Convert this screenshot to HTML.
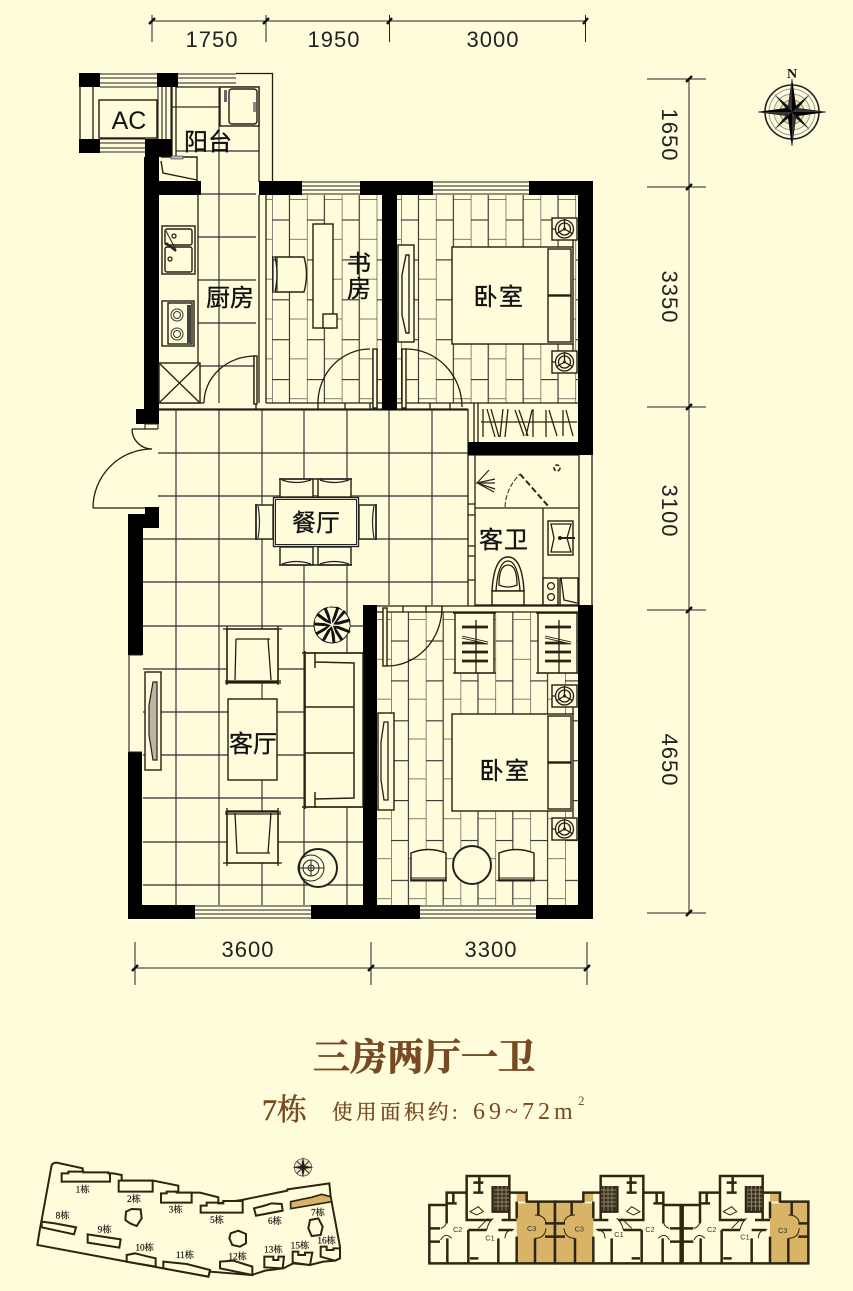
<!DOCTYPE html>
<html><head><meta charset="utf-8"><style>
html,body{margin:0;padding:0;background:#fffcdb}
svg{display:block}
.r{font-family:"Liberation Sans","Noto Sans CJK SC",sans-serif;font-size:24px;fill:#111;text-anchor:middle;stroke:#111;stroke-width:.35}
.d{font-family:"Liberation Sans",sans-serif;font-size:22px;fill:#222;text-anchor:middle;letter-spacing:1px}
.s{font-family:"Liberation Serif","Noto Serif CJK SC",serif;font-size:28px;fill:#111;text-anchor:middle;stroke:#111;stroke-width:.5}
.k{font-family:"Liberation Sans",sans-serif;font-size:22px;fill:#333;text-anchor:middle}
.t{font-family:"Liberation Serif","Noto Serif CJK SC",serif;fill:#774a22}
.f{fill:#fffcdb;stroke:#231d10;stroke-width:1.4}
.l{fill:none;stroke:#231d10;stroke-width:1.3}
.g{fill:none;stroke:#2c2c2c;stroke-width:1.15}
</style></head><body>
<svg xmlns="http://www.w3.org/2000/svg" width="853" height="1291" viewBox="0 0 853 1291">
<defs>
<pattern id="pa" patternUnits="userSpaceOnUse" x="272" y="199" width="34.9" height="39.9"><path d="M0,0V40M17.45,0V40M0,21H17.45M17.45,0H34.9" fill="none" stroke="#333" stroke-width="1.15"/></pattern>
<pattern id="pb" patternUnits="userSpaceOnUse" x="401" y="199" width="34.9" height="39.9"><path d="M0,0V40M17.45,0V40M0,21H17.45M17.45,0H34.9" fill="none" stroke="#333" stroke-width="1.15"/></pattern>
<pattern id="pc" patternUnits="userSpaceOnUse" x="391" y="619" width="34.8" height="39.9"><path d="M0,0V40M17.4,0V40M0,22H17.4M17.4,0H34.8" fill="none" stroke="#333" stroke-width="1.15"/></pattern>
<g id="ns"><rect x="0" y="0" width="25" height="22" class="f"/><circle cx="12.5" cy="11" r="9" class="l"/><circle cx="12.5" cy="11" r="6" class="l"/><circle cx="12.5" cy="11" r="1.5" fill="#222"/><path d="M12.5,11V1M12.5,11L21,16M12.5,11L4,16M0,11H4" class="l"/></g>
<g id="ward"><rect x="0" y="0" width="39" height="60" class="f" stroke-width="1.5"/><path d="M-2,0H41M-2,60H41" class="l"/><path d="M7,14h26M7,24l26,6M7,30h26M7,39h26M7,48h26" fill="none" stroke="#2b2416" stroke-width="2.8"/><path d="M7,24l26,6" fill="none" stroke="#fffcdb" stroke-width=".9"/><path d="M21,7V60" class="l"/></g>
<g id="bed"><rect x="0" y="0" width="121" height="97" class="f" stroke-width="1.6"/><rect x="96" y="2" width="23" height="46" class="f"/><rect x="96" y="49" width="23" height="46" class="f"/></g>
<g id="unit">
<path d="M290,130H320V95H290ZM290,125H405V310H290Z" fill="#d9b467"/>
<path d="M28,135H80V98H140V48H268V98H320V125H405V310H28Z M80,135V190 M82,235V310 M30,205H60 M30,245H60 M145,210V310 M145,210H200 M235,235V310 M235,210H278 M290,125V175 M290,230V310 M345,235V310 M355,125V165 M375,190H405 M375,230H405 M140,98V180H215 M160,68H190M160,98H190 M178,50V98 M218,78V155H268 M268,98V180H290 M245,180H290 M150,295H175 M80,130H110 M100,98V128" fill="none" stroke="#2e2612" stroke-width="7.5"/>
<rect x="222" y="78" width="45" height="75" fill="#3a3020"/>
<path d="M222,90H267M222,102H267M222,114H267M222,126H267M222,138H267M234,78V153M246,78V153M258,78V153" stroke="#a89a78" stroke-width="2"/>
<g fill="none" stroke="#2e2612" stroke-width="3">
<path d="M62,205Q82,200 82,170M62,240Q75,215 95,235M345,165Q375,165 378,190M345,235Q375,235 378,205M200,210Q205,185 220,175M255,235Q255,210 282,208M175,205Q190,190 205,175M150,155L175,140L190,155L170,165Z"/>
</g>
</g>
</defs>
<rect width="853" height="1291" fill="#fffcdb"/>

<!-- floor tiles -->
<path class="g" d="M158,410H468M158,453H468M158,496H468M143,539H468M143,582H468M143,626H363M143,669H363M143,712H363M143,755H363M143,798H363M143,842H363M143,885H363M176,410V905M219,410V905M262,410V905M304,410V905M347,410V905M389,410V605M432,410V605"/>
<path class="g" d="M219,88V403M172,107H220M176,151H259M198,194H256M198,237H256M198,280H256M198,323H256M198,366H256"/>
<rect x="266" y="195" width="116" height="208" fill="url(#pa)"/>
<rect x="397" y="195" width="181" height="208" fill="url(#pb)"/>
<rect x="377" y="612" width="201" height="293" fill="url(#pc)"/>

<!-- thin structure lines -->
<path class="l" d="M236,73.5H272.5V182M259,87V182M176,87H259M172,87V157M176,87V157M259,195V403M266,195V403M266,403H382M204,409H256M256,409H382M159,403H204M159,409H204M256,356V409M254,356V404M373,349V408M377,349V408M397,403H578M397,409H468M468,409V606M474,403V442M478,403V442M468,455H579M475,455V606M475,508H579M543,508V605M475,605H579M579,455V605M592,455V605M377,606H578M377,612H578M403,606V612M426,606V612M442,606V612M318,403V409M345,403V409M370,403V409M430,403V409M450,403V409M468,504H475M468,515H475M468,546H475M468,556H475M468,580H475M468,606H475"/>

<!-- door arcs -->
<path class="l" d="M255,356A51,47 0 0 0 204,403M370,349A52,54 0 0 0 318,403M406,349A56,58 0 0 1 462,407M387,666A55,59 0 0 0 442,607M132,429H158M132,429A20,20 0 0 0 152,449M152,449A59,59 0 0 0 93,508M93,508H145"/>
<rect x="402" y="349" width="4" height="59" class="f"/>
<rect x="383" y="608" width="4" height="58" class="f"/>
<rect x="373" y="349" width="4" height="59" class="f"/>
<rect x="254" y="356" width="3" height="48" class="f"/>

<!-- walls -->
<g fill="#000">
<rect x="79" y="73" width="21" height="14"/><rect x="157" y="73" width="21" height="14"/><rect x="79" y="139" width="21" height="14"/>
<rect x="145" y="139" width="27" height="18"/><rect x="144" y="157" width="15" height="253"/><rect x="159" y="181" width="42" height="14"/>
<rect x="136" y="409" width="23" height="15"/>
<rect x="145" y="507" width="14" height="21"/><rect x="128" y="514" width="31" height="14"/><rect x="128" y="514" width="15" height="141"/><rect x="128" y="752" width="14" height="167"/>
<rect x="128" y="905" width="67" height="14"/><rect x="311" y="905" width="109" height="14"/><rect x="536" y="905" width="57" height="14"/>
<rect x="363" y="605" width="14" height="300"/><rect x="578" y="605" width="15" height="314"/>
<rect x="259" y="181" width="43" height="14"/><rect x="360" y="181" width="73" height="14"/><rect x="529" y="181" width="64" height="14"/>
<rect x="382" y="181" width="15" height="229"/><rect x="578" y="181" width="15" height="274"/><rect x="468" y="442" width="125" height="13"/>
</g>
<!-- windows -->
<path fill="none" stroke="#222" stroke-width="1.1" d="M302,182H360M302,186H360M302,190H360M302,194H360M433,182H529M433,186H529M433,190H529M433,194H529M195,906H311M195,910H311M195,914H311M195,918H311M420,906H536M420,910H536M420,914H536M420,918H536M100,74H157M100,78H157M100,83H157M100,87H157M178,74H236M178,78H236M178,83H236M178,87H220M100,139H145M100,143H145M100,148H145M100,152H145M158,87V139M162,87V139M166,87V139M171,87V139M129,655H142M129,752H142M129,655V752M145,424V429M158,424V429M145,424H158"/>
<path class="l" d="M80,87V139M93,87V139"/>
<rect x="99" y="100" width="58" height="38" class="f"/>
<text x="129" y="129" font-family="'Liberation Sans',sans-serif" font-size="25" text-anchor="middle" fill="#111">AC</text>

<!-- balcony items -->
<rect x="220" y="87" width="39" height="39" class="f" stroke-width="1.6"/>
<rect x="229" y="89" width="28" height="35" rx="3" class="f"/>
<rect x="224" y="90" width="3" height="12" fill="#666"/><rect x="253" y="102" width="3" height="10" fill="#888"/>
<path d="M161,157H197V181M161,161L163,173L197,180" class="f" style="fill:none"/>
<rect x="171" y="156" width="12" height="3" fill="#bbb" stroke="#333" stroke-width=".6"/>

<!-- kitchen items -->
<path class="l" d="M198,195V363"/>
<rect x="162" y="226" width="33" height="48" class="f" stroke-width="2"/>
<rect x="165" y="229" width="27" height="16" rx="2" class="f"/><rect x="165" y="247" width="27" height="25" rx="2" class="f"/>
<circle cx="174" cy="236" r="2" class="l"/><circle cx="170" cy="259" r="2" class="l"/>
<path d="M166,231L176,250" stroke="#222" stroke-width="1" fill="none"/><path d="M166,243L176,251" stroke="#222" stroke-width="2.4"/>
<rect x="162" y="301" width="32" height="45" class="f"/><rect x="168" y="303" width="24" height="41" class="f"/>
<g fill="none" stroke="#333"><circle cx="177" cy="315" r="6"/><circle cx="177" cy="315" r="3.5"/><circle cx="177" cy="334" r="6"/><circle cx="177" cy="334" r="3.5"/></g>
<rect x="187" y="305" width="4" height="38" fill="#444"/>
<rect x="159" y="363" width="41" height="40" class="f" stroke-width="2"/><path class="l" d="M160,364L199,402M199,364L160,402"/>

<!-- study -->
<rect x="313" y="224" width="20" height="104" class="f"/><rect x="323" y="314" width="14" height="14" class="f"/>
<path class="f" d="M275,257H304Q309,274 304,292H275Q279,274 275,257Z"/><path d="M273,256V293M277,257V292" stroke="#222" stroke-width="1.2" fill="none"/>

<!-- bedroom 1 -->
<rect x="398" y="245" width="16" height="97" class="f"/>
<path d="M406,255H409V333H406L402,315V275Z" fill="#fffcdb" stroke="#222" stroke-width="1.4"/>
<use href="#bed" x="452" y="247"/>
<use href="#ns" x="552" y="218"/><use href="#ns" x="552" y="351"/>
<path class="l" d="M573,240V247M573,344V351"/>
<g fill="none" stroke="#2b2416" stroke-width="1.3">
<path d="M481,422H577"/>
<path d="M483,409V437M487,409L495,437M491,409L499,437M503,409L500,437M508,409L505,437M515,410L524,436M519,410L528,436M532,410L526,436M533,409V437M546,410V437M549,410L557,436M566,410L573,436M563,410V436"/>
</g>

<!-- bathroom -->
<g fill="none" stroke="#2b2416">
<path d="M495,479L477,483L495,489M477,483L489,470M477,483H495M479,484L494,492" stroke-width="1.2"/>
<path d="M520,474L549,507" stroke-width="2" stroke-dasharray="6 3"/>
<path d="M505,507Q506,488 520,474" stroke-width="1" stroke-dasharray="5 2"/>
<circle cx="557" cy="468" r="3" stroke-width="1.6" stroke-dasharray="4 2"/>
</g>
<rect x="548" y="521" width="25" height="34" class="f" stroke-width="1.6"/>
<path class="l" d="M551,524H571L567,538L571,552H551L554,538Z"/>
<path d="M558,538H575" stroke="#222" stroke-width="2"/><circle cx="560" cy="538" r="2" fill="#222"/>
<rect x="543" y="578" width="15" height="27" class="f" stroke-width="1.5"/><circle cx="551" cy="586" r="3.4" class="l"/><circle cx="551" cy="597" r="3.4" class="l"/>
<rect x="560" y="578" width="18" height="27" class="f" stroke-width="1.5"/><path class="l" d="M561,578L564,600L577,603"/>
<path class="f" d="M492,591Q494,557 508,557Q522,557 524,591Z"/>
<path class="l" d="M496,591Q498,561 508,561Q518,561 520,591M499,585Q499,565 508,565Q517,565 517,585Q508,589 499,585Z"/>
<rect x="492" y="591" width="32" height="14" class="f" stroke-width="1.6"/>

<!-- dining -->
<g>
<rect x="280" y="479" width="33" height="18" class="f"/><rect x="318" y="479" width="33" height="18" class="f"/>
<rect x="280" y="547" width="33" height="18" class="f"/><rect x="318" y="547" width="33" height="18" class="f"/>
<rect x="256" y="505" width="17" height="34" class="f"/><rect x="359" y="505" width="17" height="34" class="f"/>
<path d="M279,479H352M279,565H352M256,504V540M376,504V540" stroke="#222" stroke-width="1.6" fill="none"/>
<path d="M258,506Q261,522 258,538M374,506Q371,522 374,538M282,480Q296,485 311,480M320,480Q334,485 349,480M282,564Q296,559 311,564M320,564Q334,559 349,564" fill="none" stroke="#222" stroke-width="1.2"/>
<rect x="273.5" y="497.5" width="85" height="49" fill="#fffcdb" stroke="#222" stroke-width="1.4"/>
<rect x="275.5" y="499.5" width="81" height="45" fill="#fffcdb" stroke="#222" stroke-width="1"/>
</g>

<!-- plant -->
<circle cx="332" cy="625" r="18" fill="#fffcdb" stroke="#111" stroke-width="1"/>
<path d="M332,625L325,608M332,625L338,607M332,625L345,611M332,625L350,620M332,625L350,632M332,625L342,640M332,625L334,643M332,625L323,641M332,625L316,634M332,625L314,624M332,625L317,614" stroke="#111" stroke-width="3" fill="none"/>
<path d="M332,625L329,607M332,625L343,609M332,625L350,626M332,625L338,642M332,625L319,637M332,625L315,619" stroke="#fffcdb" stroke-width="1.2"/>

<!-- living -->
<rect x="145" y="672" width="16" height="98" class="f"/>
<path d="M153,682H157V760H153L149,735V705Z" fill="#bcb6a2" stroke="#222" stroke-width="1.2"/>
<rect x="228" y="699" width="49" height="81" class="f" stroke-width="1.4"/>
<rect x="227" y="629" width="51" height="53" class="f"/><path class="l" d="M223,629H282M225,681H281M225,683H281M236,639H270M236,639L235,680M268,639L271,680M227,626V685M278,626V685"/>
<rect x="227" y="811" width="51" height="52" class="f"/><path class="l" d="M225,812H281M225,814H281M223,863H282M236,853H270M235,813L237,853M271,813L268,853M227,808V866M278,808V866"/>
<rect x="305" y="653" width="58" height="154" class="f"/>
<path fill="none" stroke="#2b2416" stroke-width="1.5" d="M305,651V809M302,653H363M302,807H363M315,662L354,663V798L315,799M315,652V668M315,792V808M305,707H354M305,753H354"/>
<circle cx="318" cy="868" r="19" fill="#fffcdb" stroke="#222" stroke-width="2"/>
<g fill="none" stroke="#222"><circle cx="311" cy="868" r="13"/><circle cx="311" cy="868" r="8"/><circle cx="311" cy="868" r="3"/><path d="M298,868H324M311,860V876"/></g>

<!-- bedroom 2 -->
<rect x="378" y="713" width="16" height="97" class="f"/>
<path d="M384,722H388V800H384L381,780V742Z" fill="#fffcdb" stroke="#222" stroke-width="1.3"/>
<use href="#ward" x="455" y="613"/><use href="#ward" x="538" y="613"/>
<use href="#ns" x="552" y="685"/><use href="#ns" x="552" y="818"/>
<path class="l" d="M573,707V714M573,812V818"/>
<use href="#bed" x="452" y="714"/>
<path class="f" d="M411,853Q428,846 446,853V880H411Z"/><path d="M410,878H447M410,881H447" stroke="#222" stroke-width="1.1"/>
<path class="f" d="M499,853Q516,846 534,853V880H499Z"/><path d="M498,878H535M498,881H535" stroke="#222" stroke-width="1.1"/>
<circle cx="472" cy="865" r="19" fill="#fffcdb" stroke="#222" stroke-width="2"/>

<!-- room labels -->
<text class="r" x="208" y="150">阳台</text>
<text class="r" x="230" y="306">厨房</text>
<text class="r" x="359" y="272">书</text><text class="r" x="359" y="297">房</text>
<text class="r" x="499" y="305" letter-spacing="1.5">卧室</text>
<text class="r" x="504" y="548" letter-spacing="1">客卫</text>
<text class="r" x="316" y="531">餐厅</text>
<text class="r" x="253" y="752">客厅</text>
<text class="r" x="505" y="779" letter-spacing="1.5">卧室</text>

<!-- dimensions -->
<path fill="none" stroke="#222" stroke-width="1" d="M152,21H586M152,15V42M266,15V42M389.5,15V42M585.5,15V42M135,968H587M135,942V985M371,942V985M587,942V985M689,79V913M647,79H706M647,187H706M647,407H706M647,610H706M647,913H706"/>
<path fill="none" stroke="#111" stroke-width="2.4" d="M149,24L155,18M263,24L269,18M387,24L392,18M583,24L588,18M132,971L138,965M368,971L374,965M584,971L590,965M686,82L692,76M686,190L692,184M686,410L692,404M686,613L692,607M686,916L692,910"/>
<text class="d" x="212" y="47">1750</text><text class="d" x="334" y="47">1950</text><text class="d" x="493" y="47">3000</text>
<text class="d" x="248" y="957">3600</text><text class="d" x="491" y="957">3300</text>
<text class="d" transform="translate(662,135) rotate(90)">1650</text>
<text class="d" transform="translate(662,297) rotate(90)">3350</text>
<text class="d" transform="translate(662,511) rotate(90)">3100</text>
<text class="d" transform="translate(662,760) rotate(90)">4650</text>

<!-- compass -->
<g transform="translate(792,112)">
<circle r="27" fill="none" stroke="#222" stroke-width="1.6"/><circle r="23" fill="none" stroke="#999" stroke-width="1"/><circle r="18" fill="#f6f2cf" stroke="#999" stroke-width="1"/><circle r="12" fill="#e9e4c0" stroke="#888"/>
<path d="M-18,-18L-3,0L0,-3ZM18,-18L0,-3L3,0ZM18,18L3,0L0,3ZM-18,18L0,3L-3,0Z" fill="#111"/>
<path d="M0,-33L4,-4L34,0L4,4L0,34L-4,4L-34,0L-4,-4Z" fill="#333" stroke="#111" stroke-width=".5"/>
<path d="M0,-33L4,-4L0,0ZM34,0L4,4L0,0ZM0,34L-4,4L0,0ZM-34,0L-4,-4L0,0Z" fill="#000"/>
</g>
<text x="792" y="78" font-family="'Liberation Serif',serif" font-weight="bold" font-size="14" text-anchor="middle" fill="#111">N</text>

<!-- title -->
<text class="t" x="424" y="1070" font-size="37" font-weight="700" text-anchor="middle" stroke="#774a22" stroke-width=".7">三房两厅一卫</text>
<text class="t" x="262" y="1120" font-size="30" stroke="#774a22" stroke-width=".5">7栋</text>
<text class="t" x="332" y="1119" font-size="20.5" letter-spacing="3.5" stroke="#774a22" stroke-width=".3">使用面积约:</text>
<text class="t" x="473" y="1119" font-size="24" letter-spacing="4">69~72m</text>
<text class="t" x="578" y="1105" font-size="13">2</text>

<!-- site plan -->
<g transform="translate(0,1140) scale(.33333)">
<path d="M125,240L155,75Q160,68 170,68L248,85V97L340,100L365,105V122H460L535,137V158H600L655,172V190L725,180L862,152V148L988,130L992,170L1020,320V355L1005,362L970,365L930,375L880,370L850,385L795,392L755,405L630,395L625,410L490,385L380,365L112,315L120,265Z" fill="#fffcdb" stroke="#2a2410" stroke-width="6"/>
<path fill="#fffcdb" stroke="#2a2410" stroke-width="6" d="M185,100H205V95H250V97H325V100H330V125H185ZM356,122H458V155H356ZM483,160H500V155H530V158H575V188H483ZM602,197H620V188H655V190H670V183H728V218H602ZM762,205L790,198L815,190L845,192L848,212L768,227ZM125,245L165,250L228,262L222,283L125,262ZM263,283L362,298L358,323L263,308ZM380,345L405,340L445,350L467,355V380L380,365ZM490,365L560,372L630,390L625,410L490,385ZM660,365L700,362L757,380V405L660,385ZM793,350H820V360H835V350H852L848,385L793,382ZM878,335H895V345H915V338H937L930,375L878,368ZM962,320H980V330H1000V325H1020V355L1005,362L962,350Z"/>
<path fill="#d9b467" stroke="#2a2410" stroke-width="5" d="M872,185L905,178L935,172L965,163L992,170L995,185L872,206Z"/>
<path fill="#fffcdb" stroke="#2a2410" stroke-width="6" d="M378,215L395,207L422,208L425,235L410,258L390,250L376,240ZM692,280L715,272L738,282L738,310L720,320L697,315L688,295ZM930,240L955,235L968,260L962,285L935,288L925,265Z"/>
<text class="s" x="248" y="158">1栋</text><text class="s" x="402" y="186">2栋</text><text class="s" x="527" y="218">3栋</text><text class="s" x="651" y="249">5栋</text><text class="s" x="825" y="252">6栋</text><text class="s" x="954" y="226">7栋</text><text class="s" x="188" y="235">8栋</text><text class="s" x="314" y="277">9栋</text><text class="s" x="434" y="332">10栋</text><text class="s" x="555" y="354">11栋</text><text class="s" x="713" y="358">12栋</text><text class="s" x="820" y="337">13栋</text><text class="s" x="900" y="325">15栋</text><text class="s" x="980" y="310">16栋</text>
<g transform="translate(909,82)"><circle r="26" fill="#eee8c0" stroke="#333" stroke-width="2"/><path d="M0,-32L5,-5L32,0L5,5L0,32L-5,5L-32,0L-5,-5Z" fill="#222"/><path d="M-18,-18L18,18M18,-18L-18,18" stroke="#222" stroke-width="3"/></g>
</g>

<!-- key plan -->
<g transform="translate(420,1160) scale(.33333)">
<use href="#unit"/>
<use href="#unit" transform="translate(810,0) scale(-1,1)"/>
<use href="#unit" transform="translate(760,0)"/>
<text class="k" x="113" y="216">C2</text><text class="k" x="210" y="241">C1</text><text class="k" x="335" y="213">C3</text>
<text class="k" x="478" y="214">C3</text><text class="k" x="597" y="231">C1</text><text class="k" x="690" y="216">C2</text>
<text class="k" x="875" y="216">C2</text><text class="k" x="975" y="238">C1</text><text class="k" x="1088" y="219">C3</text>
</g>
</svg>
</body></html>
